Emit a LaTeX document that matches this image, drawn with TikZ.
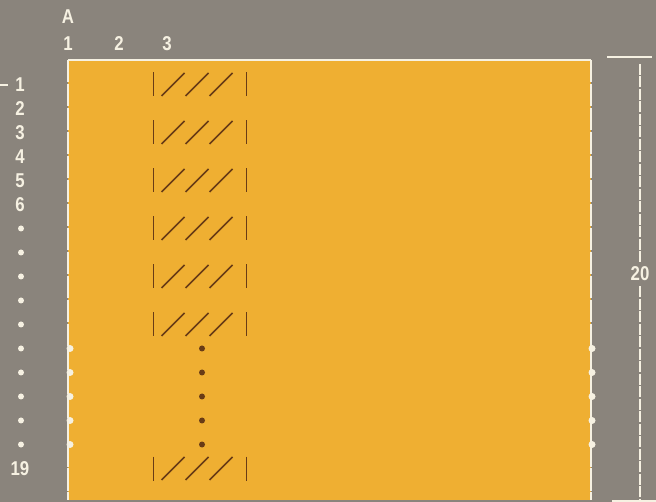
\documentclass[tikz,border=0pt]{standalone}
\usepackage{fontspec}
\setmainfont{Liberation Sans}[FakeStretch=0.84]
\usetikzlibrary{positioning}
\definecolor{bggray}{RGB}{138,132,124}
\definecolor{sheet}{RGB}{239,175,50}
\definecolor{ink}{RGB}{105,60,22}
\definecolor{chalk}{RGB}{246,241,226}
\tikzset{
  lbl/.style={text=chalk,font=\fontsize{20}{20}\selectfont\bfseries,inner sep=0pt},
  edge/.style={chalk,line width=1.5pt},
  gap/.style={dash pattern=on 22.5pt off 1.5pt},
  hatch/.pic={
    \draw[ink,line width=1.8pt] (-46,-12) -- (-46,12);
    \draw[ink,line width=1.8pt] (47,-12) -- (47,12);
    \foreach \s in {-38,-14,10}
      \draw[ink,line width=1.7pt] (\s,11.5) -- (\s+23,-11.5);
  }
}

\begin{document}
\begin{tikzpicture}[x=1pt,y=-1pt]
\fill[bggray] (0,0) rectangle (656,502);
\useasboundingbox (0,0) rectangle (656,502);
\fill[sheet] (68,60) rectangle (591,500);

% column heads
\node[lbl] (colA) at (68,17) {A};
\node[lbl] (col1) at (68,44) {1};
\node[lbl] (col2) at (119,44) {2};
\node[lbl] (col3) at (167,44) {3};

% sheet edges
\draw[edge] (68,60) -- (591,60);
\draw[edge,gap] (68,60) -- (68,500);
\draw[edge,gap] (591,60) -- (591,500);

% row heads
\foreach \i in {1,...,6}
  \node[lbl] (r\i) at (20,84.5+24*\i-24) {\i};
\foreach \i in {7,...,16}
  \fill[chalk] (21,84.5+24*\i-24) circle (3);
\node[lbl] (r19) at (20,468.5) {19};
\coordinate (tick) at (0,85);
\draw[chalk,line width=1.6pt] (tick) -- ++(8,0);

% marked cells
\foreach \i in {1,3,5,7,9,11,17}
  \pic at (199.5,84.5+24*\i-24) {hatch};
\foreach \i in {12,...,16} {
  \fill[ink] (202,84.5+24*\i-24) circle (3);
  \fill[chalk] (70,84.5+24*\i-24) circle (3.5);
  \fill[chalk] (592,84.5+24*\i-24) circle (3.5);
}

% height
\coordinate (dimtop) at (640,57);
\coordinate (dimbot) at (640,501);
\node[lbl] (dimlbl) at (640,274) {20};
\draw[edge] (607,57) -- (652,57);
\draw[edge] (612,501) -- (656,501);
\draw[edge,dash pattern=on 11pt off 1.5pt] ([yshift=-7]dimtop) -- ([yshift=5]dimlbl.north);
\draw[edge,dash pattern=on 11pt off 1.5pt] ([yshift=-5]dimlbl.south) -- (dimbot);
\end{tikzpicture}
\end{document}
